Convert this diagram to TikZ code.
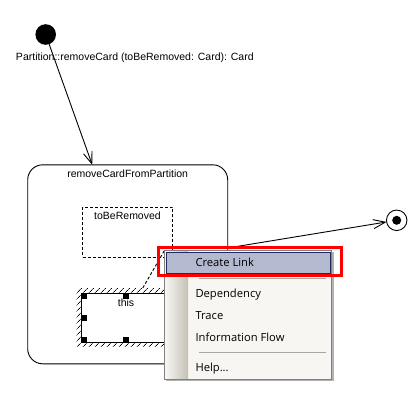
\documentclass[tikz,border=0pt]{standalone}
\usepackage{fontspec}
\setmainfont{Liberation Sans}
\newfontfamily\menufont{Open Sans}
\usetikzlibrary{positioning,arrows.meta,patterns.meta,shadows}

\definecolor{menubg}{HTML}{F7F6F2}
\definecolor{menustrip}{HTML}{C4C0B6}
\definecolor{hilite}{HTML}{B3B9CF}
\definecolor{hiliteborder}{HTML}{202B5E}
\definecolor{sepgrey}{HTML}{A9A9A2}

\begin{document}
\begin{tikzpicture}[x=1pt, y=-1pt, line width=0.9pt,
    font=\fontsize{10.5}{12}\selectfont,
    every node/.style={inner sep=0pt, outer sep=0pt},
    barb/.style={-{Straight Barb[length=12pt, width=9pt]}},
    statebox/.style={draw, rounded corners=15pt,
      minimum width=200pt, minimum height=199pt},
    dashbox/.style={draw, dash pattern=on 3pt off 2pt,
      minimum width=90pt, minimum height=50pt},
    hatched/.style={pattern={Lines[angle=45, distance=4pt, line width=0.8pt]},
      minimum width=99pt, minimum height=58pt},
    objbox/.style={draw, fill=white, minimum width=90pt, minimum height=49.5pt},
    handle/.style={fill=black, minimum size=5.5pt},
    menuitem/.style={font=\menufont\fontsize{11.2}{13}\selectfont, anchor=base west},
    sep/.style={draw=sepgrey, line width=1pt}]
    \useasboundingbox (0,0) rectangle (419,406);

    \node[circle, fill=black, minimum size=20.6pt] (init) at (45.7,34.5) {};
    \node[anchor=west] (sig) at (16,57.5) {Partition::removeCard (toBeRemoved: Card): Card};

    \node[statebox] (state) at (127.7,264.3) {};
    \node[below=5pt of state.north] (statename) {removeCardFromPartition};

    \node[dashbox] (tbr) at (127.5,232.3) {};
    \node[below=5pt of tbr.north] (tbrname) {toBeRemoved};

    \node[hatched] (this) at (126.1,317) {};
    \node[objbox, anchor=north west] (thisbox) at (81,293.3) {};
    \node[below=5.5pt of thisbox.north] (thisname) {this};
    \foreach \a/\n in {north west/1, north/2, west/3, south west/4, south/5}
        \node[handle, anchor=\a] (h\n) at (thisbox.\a) {};

    \node[circle, draw, minimum size=20.5pt] (final) at (396.7,220.3) {};
    \node[circle, fill=black, minimum size=9pt] (finaldot) at (final) {};

    \draw[barb] (init) -- (state);
    \draw[barb] (state) -- (final);
    \coordinate (cursor) at (165,249.5);
    \draw[dash pattern=on 3pt off 2pt] (this) -- (cursor);

    \node[fill=menubg, draw=gray, minimum width=167.7pt, minimum height=129pt,
      anchor=north west,
      drop shadow={shadow xshift=2pt, shadow yshift=-2pt, fill=black, opacity=0.3}]
      (menu) at (164,250) {};
    \node[left color=menubg, right color=menustrip, minimum width=22.5pt,
      minimum height=127pt, anchor=north west] (strip) at (165.5,251) {};
    \node[fill=hilite, draw=hiliteborder, line width=1pt, minimum width=163.5pt,
      minimum height=21pt, anchor=north west] (hl) at (166.5,252.3) {};
    \draw[sep] (199.3,278.5) -- (326,278.5);
    \draw[sep] (199.3,352.3) -- (326,352.3);

    \node[menuitem] (create) at (195.5,266.7) {Create Link};
    \node[menuitem] (dep) at (195.5,297.3) {Dependency};
    \node[menuitem] (trace) at (195.5,319) {Trace};
    \node[menuitem] (info) at (195.5,341) {Information Flow};
    \node[menuitem] (help) at (195.5,371) {Help...};

    \node[draw=red, line width=3pt, minimum width=183.6pt, minimum height=28.6pt]
      (redbox) at (250,261.5) {};
\end{tikzpicture}
\end{document}
